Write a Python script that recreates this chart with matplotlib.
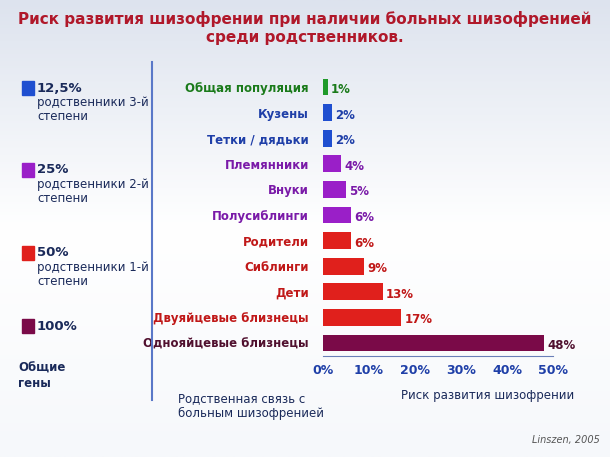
import matplotlib
matplotlib.use("Agg")
import matplotlib.pyplot as plt
import numpy as np

categories = ["Общая популяция", "Кузены", "Тетки / дядьки", "Племянники", "Внуки",
              "Полусиблинги", "Родители", "Сиблинги", "Дети", "Двуяйцевые близнецы",
              "Однояйцевые близнецы"]
values = [1, 2, 2, 4, 5, 6, 6, 9, 13, 17, 48]
groups = ["g", "b", "b", "p", "p", "p", "r", "r", "r", "r", "m"]
ticks = [0, 10, 20, 30, 40, 50]
colmap = {"g": "#1f9a2a", "b": "#1f4fd0", "p": "#9a1fc8", "r": "#e0201c", "m": "#7a0a48"}
textmap = {"g": "#1a7a1a", "b": "#1f3fa8", "p": "#7a1aa8", "r": "#c01818", "m": "#50102e"}

W, H = 610, 457
fig = plt.figure(figsize=(W/100, H/100), dpi=100)
bg = fig.add_axes([0, 0, 1, 1])
grad = np.linspace(0, 1, 256).reshape(-1, 1)
from matplotlib.colors import LinearSegmentedColormap
cm = LinearSegmentedColormap.from_list("bg", ["#dde3ee", "#ffffff", "#f6f8fb"])
bg.imshow(grad, aspect="auto", cmap=cm, extent=[0, 1, 0, 1])
bg.set_xlim(0, 1); bg.set_ylim(0, 1); bg.axis("off")

def fx(px): return px / W
def fy(py): return 1 - py / H

row0, row1 = 87, 343
step = (row1 - row0) / 10
top = row0 - step / 2; bottom = row1 + step / 2
ax = fig.add_axes([fx(323), fy(bottom), fx(553) - fx(323), (bottom - top) / H])
ax.patch.set_alpha(0)
y = np.arange(len(categories))
ax.barh(y, values, height=0.65, color=[colmap[g] for g in groups])
ax.set_ylim(len(categories) - 0.5, -0.5)
ax.set_xlim(0, 50)
ax.set_xticks(ticks)
ax.set_xticklabels([f"{t}%" for t in ticks], color="#1f3fa8", fontweight="bold", fontsize=9)
ax.set_yticks(y)
ax.set_yticklabels(categories, fontsize=8.5, fontweight="bold")
for lab, g in zip(ax.get_yticklabels(), groups):
    lab.set_color(textmap[g])
for s in ["top", "right", "left"]:
    ax.spines[s].set_visible(False)
ax.spines["bottom"].set_color("#6a7fb8")
ax.tick_params(axis="y", length=0, pad=10)
ax.tick_params(axis="x", length=0, pad=6)
for yi, v, g in zip(y, values, groups):
    ax.text(v + 0.7, yi + 0.1, f"{v}%", va="center", ha="left", fontsize=8.5,
            fontweight="bold", color=textmap[g])

fig.text(0.5, fy(28), "Риск развития шизофрении при наличии больных шизофренией\nсреди родственников.",
         ha="center", va="center", fontsize=11, fontweight="bold", color="#b0182a", linespacing=1.3)

line = plt.Line2D([fx(152), fx(152)], [fy(62), fy(400)], color="#5a78c8", lw=1.5, transform=fig.transFigure)
fig.add_artist(line)
leg = [("12,5%", "родственники 3-й\nстепени", colmap["b"], 88),
       ("25%", "родственники 2-й\nстепени", colmap["p"], 170),
       ("50%", "родственники 1-й\nстепени", colmap["r"], 253),
       ("100%", "", colmap["m"], 326)]
for pct, txt, c, py in leg:
    fig.patches.append(plt.Rectangle((fx(22), fy(py + 7)), 12 / W, 14 / H, color=c,
                                     transform=fig.transFigure, figure=fig))
    fig.text(fx(37), fy(py), pct, fontsize=9.5, fontweight="bold", color="#1a2a5a", va="center")
    if txt:
        fig.text(fx(37), fy(py + 8), txt, fontsize=8.5, color="#1a2a5a", va="top", linespacing=1.1)
fig.text(fx(18), fy(376), "Общие\nгены", fontsize=8.5, fontweight="bold", color="#1a2a5a", va="center")
fig.text(fx(178), fy(406), "Родственная связь с\nбольным шизофренией", fontsize=8.5,
         color="#1a2a5a", va="center", linespacing=1.1)
fig.text(fx(488), fy(395), "Риск развития шизофрении", fontsize=8.5, color="#1a2a5a",
         va="center", ha="center")
fig.text(fx(600), fy(440), "Linszen, 2005", fontsize=7, style="italic", color="#555555",
         ha="right", va="center")
fig.savefig("out.png", dpi=100)
